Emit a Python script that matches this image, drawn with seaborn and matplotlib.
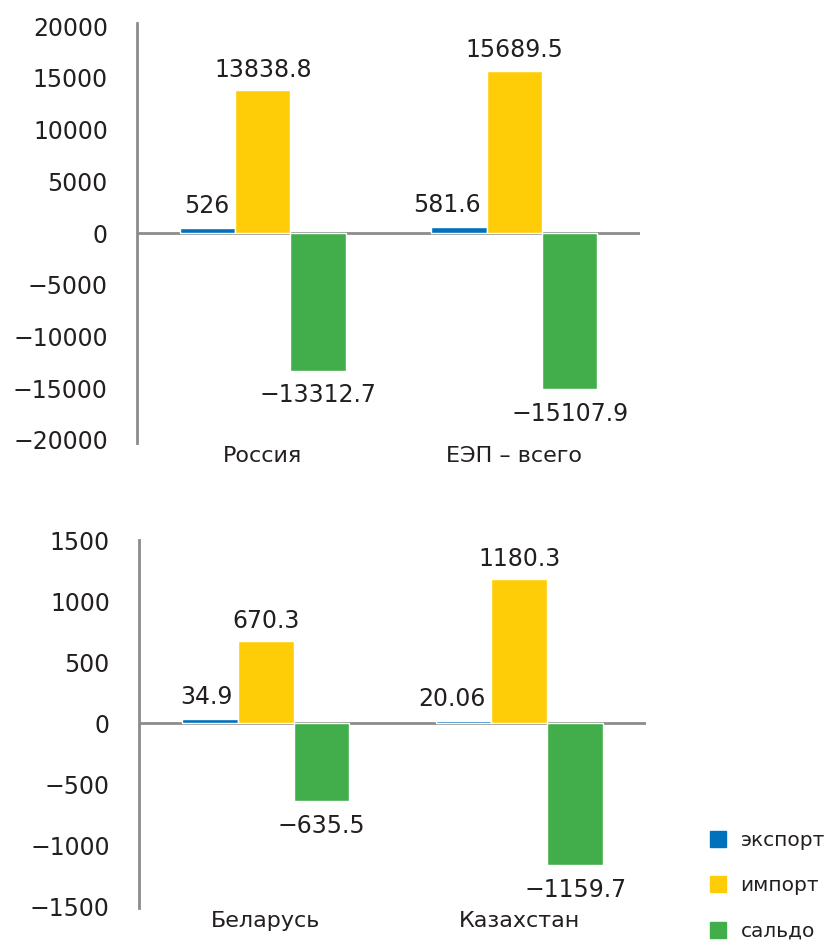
import seaborn as sns
import matplotlib.pyplot as plt
import pandas as pd
from matplotlib.lines import Line2D

# data
series = ["экспорт", "импорт", "сальдо"]
top_cats = ["Россия", "ЕЭП – всего"]
top_vals = {"экспорт": [526, 581.6], "импорт": [13838.8, 15689.5], "сальдо": [-13312.7, -15107.9]}
top_labels = {"экспорт": ["526", "581.6"], "импорт": ["13838.8", "15689.5"], "сальдо": ["−13312.7", "−15107.9"]}
bot_cats = ["Беларусь", "Казахстан"]
bot_vals = {"экспорт": [34.9, 20.06], "импорт": [670.3, 1180.3], "сальдо": [-635.5, -1159.7]}
bot_labels = {"экспорт": ["34.9", "20.06"], "импорт": ["670.3", "1180.3"], "сальдо": ["−635.5", "−1159.7"]}
colors = ["#0071BA", "#FFCD08", "#41AE4B"]

sns.set_style("white")
plt.rcParams["font.family"] = ["DejaVu Sans"]
txt = "#231F20"
grey = "#8C8C8C"

fig = plt.figure(figsize=(8.38, 9.4), dpi=100)
ax1 = fig.add_axes([0.1635, 0.5287, 0.6002, 0.4468])
ax2 = fig.add_axes([0.1659, 0.034, 0.6051, 0.3915])


def draw(ax, cats, vals, labels, ylim, ticks):
    rows = []
    for s in series:
        for c, v in zip(cats, vals[s]):
            rows.append({"cat": c, "series": s, "value": v})
    df = pd.DataFrame(rows)
    sns.barplot(data=df, x="cat", y="value", hue="series", hue_order=series,
                palette=colors, width=0.66, saturation=1, legend=False, ax=ax)
    ax.set_xlim(-0.5, 1.5)
    ax.set_ylim(*ylim)
    ax.set_yticks(ticks)
    ax.axhline(0, color=grey, lw=2, zorder=0)
    for sp in ["top", "right", "bottom"]:
        ax.spines[sp].set_visible(False)
    ax.spines["left"].set_color(grey)
    ax.spines["left"].set_linewidth(2)
    ax.tick_params(axis="y", length=0, pad=21, labelsize=17, labelcolor=txt)
    ax.tick_params(axis="x", length=0, pad=2, labelsize=16, labelcolor=txt)
    ax.set_xlabel("")
    ax.set_ylabel("")
    for i, s in enumerate(series):
        cont = ax.containers[i]
        for p, lab in zip(cont.patches, labels[s]):
            h = p.get_height()
            if s == "экспорт":
                ax.annotate(lab, xy=(p.get_x() + p.get_width(), h), xytext=(-4, 7),
                            textcoords="offset points", ha="right", va="bottom",
                            fontsize=17, color=txt)
            elif h >= 0:
                ax.annotate(lab, xy=(p.get_x() + p.get_width() / 2, h), xytext=(0, 6),
                            textcoords="offset points", ha="center", va="bottom",
                            fontsize=17, color=txt)
            else:
                ax.annotate(lab, xy=(p.get_x() + p.get_width() / 2, h), xytext=(0, -9),
                            textcoords="offset points", ha="center", va="top",
                            fontsize=17, color=txt)


draw(ax1, top_cats, top_vals, top_labels, (-20300, 20300),
     [-20000, -15000, -10000, -5000, 0, 5000, 10000, 15000, 20000])
draw(ax2, bot_cats, bot_vals, bot_labels, (-1510, 1500),
     [-1500, -1000, -500, 0, 500, 1000, 1500])

handles = [Line2D([], [], marker="s", linestyle="none", markersize=12,
                  markerfacecolor=c, markeredgecolor=c) for c in colors]
fig.legend(handles, series, loc="lower left", bbox_to_anchor=(0.826, -0.02),
           frameon=False, fontsize=14.5, labelcolor=txt, handlelength=0.8,
           handletextpad=0.7, labelspacing=1.3)

plt.savefig("out.png", dpi=100)
